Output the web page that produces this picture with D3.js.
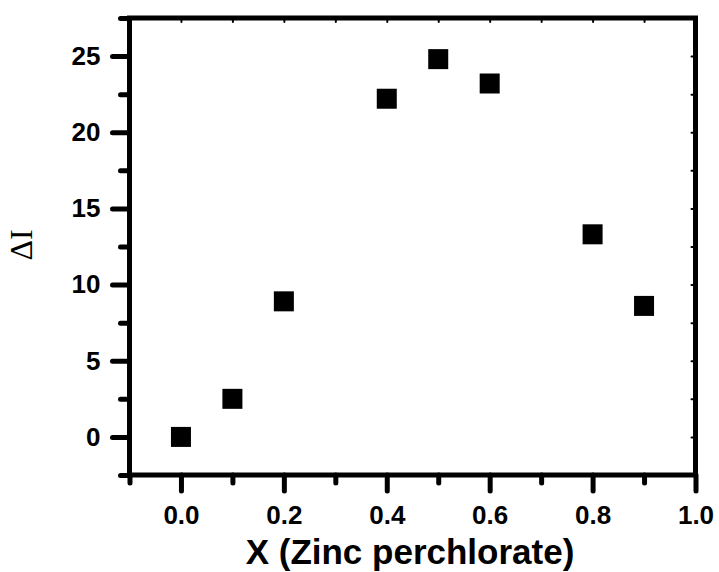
<!DOCTYPE html>
<html>
<head>
<meta charset="utf-8">
<script src="https://cdn.jsdelivr.net/npm/d3@7"></script>
<style>
  body { margin: 0; background: #fff; }
  svg { display: block; }
</style>
</head>
<body>
<svg id="chart" width="719" height="572"></svg>
<script>
// data
const xValues = [0.0, 0.1, 0.2, 0.4, 0.5, 0.6, 0.8, 0.9];
const yValues = [0.0, 2.5, 8.9, 22.2, 24.8, 23.2, 13.3, 8.6];
const xMajorTicks = [0.0, 0.2, 0.4, 0.6, 0.8, 1.0];
const xMinorTicks = [-0.1, 0.1, 0.3, 0.5, 0.7, 0.9];
const yMajorTicks = [0, 5, 10, 15, 20, 25];
const yMinorTicks = [-2.5, 2.5, 7.5, 12.5, 17.5, 22.5, 27.5];
const xTitle = 'X (Zinc perchlorate)';
const yTitle = 'ΔI';

const svg = d3.select('#chart');

const plotLeft = 129.5, plotRight = 695.5, plotTop = 18, plotBottom = 475;

const x = d3.scaleLinear().domain([-0.1, 1.0]).range([plotLeft, plotRight]);
const y = d3.scaleLinear().domain([-2.5, 27.5]).range([plotBottom, plotTop]);

const tickFont = 'bold 26px Arial, "Liberation Sans", sans-serif';

function style_axis (g) {
    g.select('.domain').remove();
    g.selectAll('.tick line')
        .attr('stroke', '#000')
        .attr('stroke-width', 5)
        .attr('stroke-linecap', 'round');
    g.selectAll('.tick text')
        .style('font', tickFont)
        .attr('fill', '#000');
}

// minor ticks first, then majors
svg.append('g')
    .attr('transform', `translate(0,${plotBottom})`)
    .call(d3.axisBottom(x).tickValues(xMinorTicks).tickSize(8).tickFormat(''))
    .call(style_axis);

svg.append('g')
    .attr('transform', `translate(0,${plotBottom})`)
    .call(d3.axisBottom(x).tickValues(xMajorTicks).tickSize(16).tickPadding(15).tickFormat(d3.format('.1f')))
    .call(style_axis);

svg.append('g')
    .attr('transform', `translate(${plotLeft},0)`)
    .call(d3.axisLeft(y).tickValues(yMinorTicks).tickSize(9).tickFormat(''))
    .call(style_axis);

svg.append('g')
    .attr('transform', `translate(${plotLeft},0)`)
    .call(d3.axisLeft(y).tickValues(yMajorTicks).tickSize(17).tickPadding(12).tickFormat(d3.format('d')))
    .call(style_axis);

// small inward ticks on top and right
svg.append('g')
    .attr('transform', `translate(0,${plotTop})`)
    .call(d3.axisBottom(x).tickValues(xMajorTicks.concat(xMinorTicks)).tickSize(4).tickFormat(''))
    .call(style_axis)
    .selectAll('.tick line').attr('stroke-width', 2);

svg.append('g')
    .attr('transform', `translate(${plotRight},0)`)
    .call(d3.axisLeft(y).tickValues(yMajorTicks.concat(yMinorTicks)).tickSize(4).tickFormat(''))
    .call(style_axis)
    .selectAll('.tick line').attr('stroke-width', 2);

// frame
svg.append('rect')
    .attr('x', plotLeft)
    .attr('y', plotTop)
    .attr('width', plotRight - plotLeft)
    .attr('height', plotBottom - plotTop)
    .attr('fill', 'none')
    .attr('stroke', '#000')
    .attr('stroke-width', 5);

// markers
const size = 20;
svg.append('g')
    .selectAll('rect')
    .data(xValues.map((v, i) => ({x: v, y: yValues[i]})))
    .join('rect')
    .attr('x', d => x(d.x) - size / 2)
    .attr('y', d => y(d.y) - size / 2)
    .attr('width', size)
    .attr('height', size)
    .attr('fill', '#000');

// titles
svg.append('text')
    .attr('x', 410)
    .attr('y', 564)
    .attr('text-anchor', 'middle')
    .style('font', 'bold 35px Arial, "Liberation Sans", sans-serif')
    .text(xTitle);

svg.append('text')
    .attr('transform', 'translate(32,245) rotate(-90)')
    .attr('text-anchor', 'middle')
    .style('font', '32px "Times New Roman", "Liberation Serif", serif')
    .text(yTitle);
</script>
</body>
</html>
